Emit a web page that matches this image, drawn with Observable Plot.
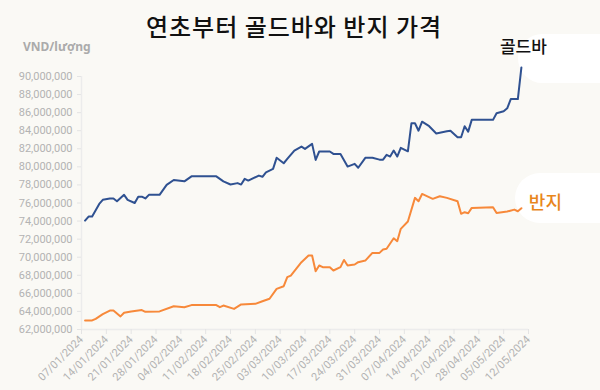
<!DOCTYPE html>
<html><head><meta charset="utf-8">
<script src="https://cdn.jsdelivr.net/npm/d3@7"></script>
<script src="https://cdn.jsdelivr.net/npm/@observablehq/plot@0.6"></script>
<style>
body{margin:0;background:#faf9f5;}
#wrap{position:relative;width:600px;height:390px;overflow:hidden;background:#faf9f5;}
.blob{position:absolute;background:#ffffff;border-radius:26px;}
#title{position:absolute;left:0;width:588px;top:9px;text-align:center;font:500 24px "Noto Sans CJK KR";letter-spacing:1px;color:#111;line-height:34px;}
#ylab{position:absolute;left:23px;top:41px;font:700 12px "Noto Sans";color:#ababab;line-height:12px;}
#chart{position:absolute;left:0;top:0;}
</style>
</head><body>
<div id="wrap">
  <div class="blob" style="left:518px;top:34px;width:120px;height:49px;"></div>
  <div class="blob" style="left:515px;top:173px;width:120px;height:50px;"></div>
  <div id="chart"></div>
  <div id="title">연초부터 골드바와 반지 가격</div>
  <div id="ylab">VND/lượng</div>
</div>
<script>
// Gold bar (골드바) price, million VND per lượng
const goldDates = ["2024-01-08","2024-01-09","2024-01-10","2024-01-12","2024-01-13","2024-01-15","2024-01-16","2024-01-17","2024-01-19","2024-01-20","2024-01-22","2024-01-23","2024-01-24","2024-01-25","2024-01-26","2024-01-29","2024-01-31","2024-02-02","2024-02-05","2024-02-07","2024-02-14","2024-02-16","2024-02-18","2024-02-20","2024-02-21","2024-02-22","2024-02-23","2024-02-26","2024-02-27","2024-02-28","2024-03-01","2024-03-02","2024-03-04","2024-03-05","2024-03-07","2024-03-09","2024-03-10","2024-03-12","2024-03-13","2024-03-14","2024-03-17","2024-03-18","2024-03-20","2024-03-22","2024-03-24","2024-03-25","2024-03-27","2024-03-29","2024-03-31","2024-04-01","2024-04-02","2024-04-03","2024-04-04","2024-04-05","2024-04-06","2024-04-08","2024-04-09","2024-04-10","2024-04-11","2024-04-12","2024-04-14","2024-04-16","2024-04-19","2024-04-20","2024-04-22","2024-04-23","2024-04-24","2024-04-25","2024-04-26","2024-05-02","2024-05-03","2024-05-05","2024-05-06","2024-05-07","2024-05-09","2024-05-10"];
const goldValues = [74.05,74.5,74.5,75.9,76.35,76.5,76.5,76.2,76.9,76.35,76.0,76.7,76.7,76.5,76.9,76.9,78.0,78.55,78.4,78.95,78.95,78.4,78.05,78.2,78.04,78.67,78.48,79.03,78.9,79.4,79.78,81.0,80.4,80.88,81.8,82.24,81.99,82.54,80.77,81.7,81.7,81.43,81.43,80.03,80.33,79.9,81.0,81.0,80.8,80.8,81.33,81.14,81.8,81.14,82.1,81.72,84.82,84.82,84.0,85.0,84.5,83.7,83.93,84.0,83.27,83.27,84.5,83.9,85.2,85.2,85.93,86.15,86.48,87.5,87.5,91.0];

// Ring (반지) price, million VND per lượng
const ringDates = ["2024-01-08","2024-01-10","2024-01-11","2024-01-13","2024-01-15","2024-01-16","2024-01-18","2024-01-19","2024-01-21","2024-01-24","2024-01-25","2024-01-29","2024-02-02","2024-02-05","2024-02-07","2024-02-14","2024-02-15","2024-02-16","2024-02-19","2024-02-21","2024-02-25","2024-02-27","2024-02-29","2024-03-02","2024-03-04","2024-03-05","2024-03-06","2024-03-09","2024-03-11","2024-03-12","2024-03-13","2024-03-14","2024-03-15","2024-03-17","2024-03-18","2024-03-20","2024-03-21","2024-03-22","2024-03-24","2024-03-25","2024-03-27","2024-03-29","2024-03-31","2024-04-01","2024-04-02","2024-04-04","2024-04-05","2024-04-06","2024-04-08","2024-04-10","2024-04-11","2024-04-12","2024-04-15","2024-04-17","2024-04-19","2024-04-22","2024-04-23","2024-04-24","2024-04-25","2024-04-26","2024-05-02","2024-05-03","2024-05-06","2024-05-08","2024-05-09","2024-05-10"];
const ringValues = [63.0,63.0,63.18,63.7,64.1,64.1,63.45,63.85,64.0,64.15,63.96,64.0,64.58,64.47,64.7,64.7,64.47,64.65,64.28,64.77,64.84,65.13,65.4,66.5,66.79,67.79,67.97,69.45,70.19,70.19,68.45,69.08,68.9,68.9,68.53,68.9,69.7,69.08,69.19,69.45,69.63,70.48,70.48,70.85,70.93,72.1,71.77,73.14,73.95,76.57,76.2,77.0,76.46,76.75,76.57,76.2,74.8,74.98,74.87,75.46,75.53,74.9,75.05,75.27,75.09,75.42];

const yTicks = [62e6,64e6,66e6,68e6,70e6,72e6,74e6,76e6,78e6,80e6,82e6,84e6,86e6,88e6,90e6];
const xTickLabels = ["2024-01-07","2024-01-14","2024-01-21","2024-01-28","2024-02-04","2024-02-11","2024-02-18","2024-02-25","2024-03-03","2024-03-10","2024-03-17","2024-03-24","2024-03-31","2024-04-07","2024-04-14","2024-04-21","2024-04-28","2024-05-05","2024-05-12"];
const seriesNames = ["골드바","반지"];

const parse = d3.utcParse("%Y-%m-%d");
const gold = goldDates.map((d,i)=>({date:parse(d), value:goldValues[i]*1e6}));
const ring = ringDates.map((d,i)=>({date:parse(d), value:ringValues[i]*1e6}));
const xTicks = xTickLabels.map(parse);

const chart = Plot.plot({
  width: 600,
  height: 390,
  marginTop: 76,
  marginBottom: 61,
  marginLeft: 81,
  marginRight: 72,
  style: {background: "transparent", fontFamily: "Roboto", fontSize: "11px", overflow: "visible"},
  x: {type: "utc", domain: [xTicks[0], xTicks[xTicks.length-1]]},
  y: {domain: [62e6, 90e6]},
  marks: [
    Plot.ruleY([62e6], {stroke: "#ececec", strokeWidth: 1.5}),
    Plot.ruleX([xTicks[0]], {stroke: "#ececec", strokeWidth: 1.5}),
    Plot.axisY({ticks: yTicks, tickFormat: d3.format(","), tickSize: 4, tickPadding: 5, stroke: "#e4e4e4", fill: "#b3b3b3", label: null}),
    Plot.axisX({ticks: xTicks, tickFormat: d3.utcFormat("%d/%m/%Y"), tickRotate: -45, tickSize: 5, tickPadding: 3, stroke: "#e4e4e4", fill: "#b3b3b3", label: null}),
    Plot.line(gold, {x: "date", y: "value", stroke: "#2f5191", strokeWidth: 2, strokeLinejoin: "round"}),
    Plot.line(ring, {x: "date", y: "value", stroke: "#f7893a", strokeWidth: 2, strokeLinejoin: "round"}),
    Plot.text([gold[gold.length-1]], {x: "date", y: "value", text: () => seriesNames[0], dy: -20, dx: 2, fill: "#111", fontSize: 17, fontWeight: 500, fontFamily: "Noto Sans CJK KR", textAnchor: "middle"}),
    Plot.text([ring[ring.length-1]], {x: "date", y: "value", text: () => seriesNames[1], dx: 24, dy: -5, fill: "#e8861c", fontSize: 18, fontWeight: 500, fontFamily: "Noto Sans CJK KR", textAnchor: "middle"})
  ]
});
document.getElementById("chart").appendChild(chart);
</script>
</body></html>
